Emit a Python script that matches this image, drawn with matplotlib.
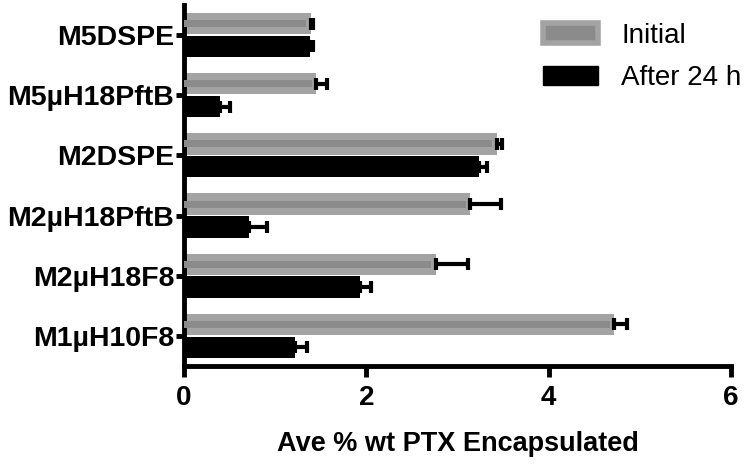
import matplotlib.pyplot as plt
from matplotlib.patches import Patch
import numpy as np

# bottom to top, as drawn on the y axis
groups = ["M1\u00b5H10F8", "M2\u00b5H18F8", "M2\u00b5H18PftB", "M2DSPE", "M5\u00b5H18PftB", "M5DSPE"]
initial = [4.72, 2.76, 3.14, 3.43, 1.45, 1.39]
initial_err = [0.14, 0.35, 0.34, 0.06, 0.12, 0.02]
after_24h = [1.22, 1.93, 0.71, 3.24, 0.39, 1.38]
after_err = [0.13, 0.12, 0.20, 0.08, 0.11, 0.03]

plt.rcParams["font.family"] = ["Liberation Sans", "DejaVu Sans"]

fig = plt.figure(figsize=(7.5, 4.72), dpi=100)
ax = fig.add_axes([0.2453, 0.2246, 0.7294, 0.765])

y = np.arange(len(groups))
h = 0.355
off = 0.19
light = "#a3a3a3"
dark = "#8b8b8b"

# initial bars: light gray with a darker middle stripe
ax.barh(y + off, initial, height=h, color=light, zorder=2)
ax.barh(y + off, np.array(initial) - 0.05, height=h / 3, color=dark, zorder=3)
ax.barh(y - off, after_24h, height=h, color="black", zorder=2)

zeros = np.zeros(len(groups))
ax.errorbar(initial, y + off, xerr=[zeros, initial_err], fmt="none", ecolor="black",
            elinewidth=3, capsize=4.3, capthick=3, zorder=4)
ax.errorbar(after_24h, y - off, xerr=[zeros, after_err], fmt="none", ecolor="black",
            elinewidth=3, capsize=4.3, capthick=3, zorder=4)

ax.set_xlim(0, 6)
ax.set_ylim(-0.5, 5.5)
ax.set_xticks([0, 2, 4, 6])
ax.set_yticks(y)
ax.set_yticklabels(groups, fontsize=20.5, fontweight="bold")
for lab in ax.get_xticklabels():
    lab.set_fontsize(20)
    lab.set_fontweight("bold")
ax.set_xlabel("Ave % wt PTX Encapsulated", fontsize=19.5, fontweight="bold", labelpad=14)

for s in ["top", "right"]:
    ax.spines[s].set_visible(False)
for s in ["left", "bottom"]:
    ax.spines[s].set_linewidth(3.5)
ax.tick_params(axis="x", length=8, width=3.5, pad=6)
ax.tick_params(axis="y", length=6, width=3.5, pad=1)

handles = [Patch(facecolor=dark, edgecolor=light, linewidth=4),
           Patch(facecolor="black", edgecolor="black")]
ax.legend(handles, ["Initial", "After 24 h"], loc="upper left", frameon=False,
          fontsize=20, handlelength=1.97, handleheight=0.7, handletextpad=0.84,
          labelspacing=0.6, borderpad=0, borderaxespad=0,
          bbox_to_anchor=(0.724, 0.952), bbox_transform=fig.transFigure)

fig.savefig("out.png", dpi=100)
